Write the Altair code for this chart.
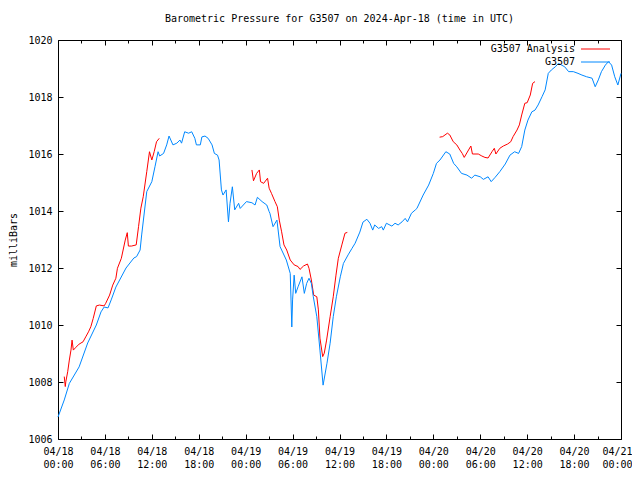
import altair as alt
import pandas as pd

# ---- data (hours since 2024-04-18 00:00 UTC, pressure in mb) ----
BLUE_H = [0.0, 0.8, 1.45, 2.7, 3.8, 4.9, 5.5, 5.9, 6.4, 6.8, 7.4, 8.7, 9.7, 10.05, 10.5, 10.7,
          11.35, 12.0, 12.4, 12.8, 13.0, 13.5, 13.9, 14.2, 14.7, 15.2, 15.6, 15.8, 16.2, 16.7,
          17.1, 17.5, 17.7, 18.2, 18.4, 18.8, 19.2, 19.7, 20.0, 20.4, 20.6, 20.9, 21.1, 21.5,
          21.8, 22.0, 22.3, 22.6, 23.1, 23.3, 23.7, 24.1, 24.8, 25.2, 25.5, 26.1, 26.7, 27.0,
          27.1, 27.5, 28.0, 28.4, 29.2, 29.7, 29.9, 30.0, 30.2, 30.4, 30.7, 31.2, 31.5, 31.8,
          32.1, 32.4, 32.65, 33.1, 33.5, 33.9, 34.4, 34.8, 35.2, 35.6, 36.1, 36.5, 37.1, 37.6,
          38.0, 38.6, 39.0, 39.5, 39.9, 40.25, 40.5, 41.0, 41.4, 41.6, 42.0, 42.7, 43.1, 43.5,
          44.0, 44.4, 44.7, 45.2, 45.7, 45.9, 46.7, 47.4, 48.0, 48.4, 48.85, 49.6, 50.1, 50.6,
          51.0, 51.6, 52.3, 52.9, 53.3, 54.0, 54.4, 55.0, 55.4, 55.9, 56.5, 57.2, 57.8, 58.4,
          58.9, 59.3, 59.7, 60.1, 60.6, 61.0, 61.4, 61.9, 62.3, 62.7, 63.1, 63.6, 64.0, 64.4,
          64.8, 65.3, 65.9, 66.5, 67.0, 67.6, 68.3, 68.7, 69.1, 69.5, 70.0, 70.4, 70.8, 71.2,
          71.6, 72.0]
BLUE_P = [1006.77, 1007.37, 1007.95, 1008.53, 1009.37, 1010.0, 1010.46, 1010.63, 1010.6, 1010.88,
          1011.33, 1012.0, 1012.35, 1012.4, 1012.63, 1013.16, 1014.68, 1015.03, 1015.55, 1016.08,
          1015.93, 1016.02, 1016.32, 1016.63, 1016.32, 1016.38, 1016.49, 1016.38, 1016.78, 1016.73,
          1016.78, 1016.55, 1016.32, 1016.32, 1016.6, 1016.63, 1016.55, 1016.32, 1016.02, 1015.96,
          1015.79, 1014.74, 1014.56, 1014.74, 1013.62, 1014.27, 1014.85, 1014.04, 1014.27, 1014.09,
          1014.21, 1014.33, 1014.29, 1014.21, 1014.48, 1014.33, 1014.21, 1013.98, 1013.92, 1013.45,
          1013.68, 1012.75, 1012.28, 1011.81, 1009.93, 1010.88, 1011.75, 1011.11, 1011.34, 1011.69,
          1011.11, 1011.46, 1011.64, 1011.46, 1010.99, 1010.29, 1009.12, 1007.89, 1008.66, 1009.36,
          1010.29, 1010.99, 1011.69, 1012.16, 1012.46, 1012.69, 1012.87, 1013.26, 1013.61, 1013.71,
          1013.57, 1013.33, 1013.51, 1013.39, 1013.45, 1013.33, 1013.57, 1013.47, 1013.57, 1013.51,
          1013.62, 1013.74, 1013.62, 1013.92, 1014.04, 1014.09, 1014.56, 1014.91, 1015.32, 1015.67,
          1015.79, 1016.08, 1016.0, 1015.67, 1015.55, 1015.32, 1015.26, 1015.15, 1015.26, 1015.2,
          1015.11, 1015.2, 1015.03, 1015.18, 1015.38, 1015.65, 1015.96, 1016.08, 1016.02, 1016.26,
          1016.84, 1017.19, 1017.48, 1017.54, 1017.72, 1018.01, 1018.25, 1018.83, 1018.95, 1019.06,
          1019.18, 1019.12, 1019.06, 1018.89, 1018.89, 1018.83, 1018.77, 1018.71, 1018.66, 1018.36,
          1018.6, 1018.89, 1019.12, 1019.24, 1019.12, 1018.71, 1018.42, 1018.83]

RED1_H = [0.8, 0.93, 1.0, 1.24, 1.45, 1.66, 1.8, 1.96, 2.3, 2.7, 3.2, 3.6, 3.9, 4.2, 4.5, 4.9,
          5.3, 5.9, 6.1, 6.6, 7.0, 7.4, 7.6, 8.1, 8.6, 8.86, 9.0, 9.4, 10.0, 10.3, 10.6, 10.9,
          11.35, 11.7, 12.0, 12.3, 12.6, 12.95]
RED1_P = [1008.19, 1007.84, 1008.01, 1008.36, 1008.77, 1009.12, 1009.47, 1009.12, 1009.22, 1009.33,
          1009.41, 1009.61, 1009.76, 1009.94, 1010.23, 1010.67, 1010.7, 1010.67, 1010.76, 1011.05,
          1011.4, 1011.64, 1011.99, 1012.34, 1012.98, 1013.24, 1012.77, 1012.77, 1012.81, 1013.45,
          1014.1, 1014.5, 1015.38, 1016.08, 1015.79, 1016.08, 1016.43, 1016.55]
RED2_H = [24.8, 25.0, 25.4, 25.75, 25.9, 26.3, 26.8, 27.0, 27.3, 27.75, 28.05, 28.3, 28.6, 28.9,
          29.25, 29.7, 30.2, 30.7, 30.95, 31.4, 31.9, 32.1, 32.4, 32.7, 33.1, 33.3, 33.5, 33.85,
          34.05, 34.35, 34.8, 35.2, 35.55, 35.85, 36.3, 36.7, 37.0]
RED2_P = [1015.44, 1015.06, 1015.32, 1015.44, 1015.03, 1014.97, 1015.15, 1014.8, 1014.62, 1014.33,
          1014.15, 1013.68, 1013.27, 1012.81, 1012.63, 1012.28, 1012.11, 1012.05, 1011.95, 1012.07,
          1012.14, 1011.99, 1011.58, 1011.05, 1010.99, 1010.53, 1009.54, 1008.89, 1009.01, 1009.47,
          1010.29, 1010.99, 1011.75, 1012.34, 1012.81, 1013.22, 1013.25]
RED3_H = [48.8, 49.2, 49.8, 50.1, 50.55, 51.0, 51.4, 51.7, 51.95, 52.5, 52.8, 53.0, 53.75, 54.2,
          54.6, 55.0, 55.5, 55.8, 56.0, 56.5, 56.95, 57.5, 57.9, 58.2, 58.7, 59.0, 59.3, 59.7,
          60.0, 60.4, 60.7, 61.0]
RED3_P = [1016.59, 1016.61, 1016.73, 1016.67, 1016.43, 1016.32, 1016.14, 1016.02, 1015.88, 1016.14,
          1016.28, 1016.0, 1016.0, 1015.93, 1015.88, 1015.86, 1016.08, 1016.2, 1016.0, 1016.2,
          1016.28, 1016.35, 1016.43, 1016.61, 1016.84, 1017.02, 1017.37, 1017.78, 1017.8, 1018.07,
          1018.48, 1018.54]

X_MAJOR = [0, 6, 12, 18, 24, 30, 36, 42, 48, 54, 60, 66, 72]
X_MINOR = [3, 9, 15, 21, 27, 33, 39, 45, 51, 57, 63, 69]
X_DATES = ["04/18", "04/18", "04/18", "04/18", "04/19", "04/19", "04/19", "04/19",
           "04/20", "04/20", "04/20", "04/20", "04/21"]
X_TIMES = ["00:00", "06:00", "12:00", "18:00", "00:00", "06:00", "12:00", "18:00",
           "00:00", "06:00", "12:00", "18:00", "00:00"]
Y_TICKS = [1006, 1008, 1010, 1012, 1014, 1016, 1018, 1020]

SERIES = ["G3507 Analysis", "G3507"]
COLORS = ["#ff0000", "#0088ff"]
TITLE = "Barometric Pressure for G3507 on 2024-Apr-18 (time in UTC)"
FONT = "DejaVu Sans Mono"

blue = pd.DataFrame({"h": BLUE_H, "p": BLUE_P})
red = pd.concat([
    pd.DataFrame({"h": RED1_H, "p": RED1_P, "seg": 1}),
    pd.DataFrame({"h": RED2_H, "p": RED2_P, "seg": 2}),
    pd.DataFrame({"h": RED3_H, "p": RED3_P, "seg": 3}),
])

xs = alt.Scale(domain=[0, 72], nice=False, zero=False)
ys = alt.Scale(domain=[1006, 1020], nice=False, zero=False)

label_expr = (f"indexof({X_MAJOR}, datum.value) < 0 ? '' : "
              f"[{X_DATES}[indexof({X_MAJOR}, datum.value)], {X_TIMES}[indexof({X_MAJOR}, datum.value)]]")
last_test = f"datum.value == {X_MAJOR[-1]}"


def tick_axis(orient, values, size):
    return alt.Axis(orient=orient, values=values, labels=False, domain=False, grid=False,
                    ticks=True, tickSize=size, offset=-size, tickColor="black", title=None)


# red line with label axes
red_layer = alt.Chart(red).mark_line(color=COLORS[0], strokeWidth=1).encode(
    x=alt.X("h:Q", scale=xs, axis=alt.Axis(
        orient="bottom", values=X_MAJOR, labelExpr=label_expr,
        ticks=False, domain=False, grid=False, labelFlush=False,
        labelOverlap=False, labelPadding=7, labelLineHeight=13,
        labelBaseline="top", title=None,
        labelAlign={"condition": {"test": last_test, "value": "right"}, "value": "center"},
        labelOffset={"condition": {"test": last_test, "value": 11}, "value": 0},
    )),
    y=alt.Y("p:Q", scale=ys, axis=alt.Axis(orient="left", values=Y_TICKS, format="d", ticks=False,
                                            domain=False, grid=False, labelPadding=6, labelFlush=False,
                                            title="milliBars", titleX=-45, titleY=199.5,
                                            titleAngle=270, titleAlign="center",
                                            titleBaseline="middle", titleFontWeight="normal")),
    detail="seg:N",
)

blue_layer = alt.Chart(blue).mark_line(color=COLORS[1], strokeWidth=1).encode(
    x=alt.X("h:Q", scale=xs, axis=tick_axis("bottom", X_MAJOR, 5)),
    y=alt.Y("p:Q", scale=ys, axis=tick_axis("left", Y_TICKS, 5)),
)

inv1 = alt.Chart(blue).mark_point(opacity=0).encode(
    x=alt.X("h:Q", scale=xs, axis=tick_axis("bottom", X_MINOR, 3)),
    y=alt.Y("p:Q", scale=ys, axis=tick_axis("right", Y_TICKS, 5)),
)
inv2 = alt.Chart(blue).mark_point(opacity=0).encode(
    x=alt.X("h:Q", scale=xs, axis=tick_axis("top", X_MAJOR, 5)),
    y=alt.Y("p:Q", scale=ys, axis=None),
)
inv3 = alt.Chart(blue).mark_point(opacity=0).encode(
    x=alt.X("h:Q", scale=xs, axis=tick_axis("top", X_MINOR, 3)),
    y=alt.Y("p:Q", scale=ys, axis=None),
)

legend_layers = []
for i, (name, col) in enumerate(zip(SERIES, COLORS)):
    ypos = 9 + 13 * i
    legend_layers.append(
        alt.Chart(pd.DataFrame({"t": [name]})).mark_text(
            align="right", baseline="middle", font=FONT, fontSize=10, color="black"
        ).encode(text="t:N", x=alt.value(517), y=alt.value(ypos))
    )
    legend_layers.append(
        alt.Chart(pd.DataFrame({"t": [name]})).mark_rule(color=col, strokeWidth=1).encode(
            x=alt.value(523), x2=alt.value(552), y=alt.value(ypos)
        )
    )

chart = alt.layer(red_layer, blue_layer, inv1, inv2, inv3, *legend_layers).resolve_axis(
    x="independent", y="independent"
).properties(
    width=563, height=399,
    autosize="none",
    padding={"left": 50, "top": 32, "right": 11, "bottom": 29},
    title=alt.TitleParams(TITLE, font=FONT, fontSize=10, fontWeight="normal", color="black",
                          anchor="middle", offset=11),
).configure_view(stroke="black", strokeWidth=1).configure_axis(
    labelFont=FONT, labelFontSize=10, labelColor="black", titleFont=FONT, titleFontSize=10,
    titleColor="black"
)

chart.save("out.html", embed_options={"renderer": "svg", "actions": False})
